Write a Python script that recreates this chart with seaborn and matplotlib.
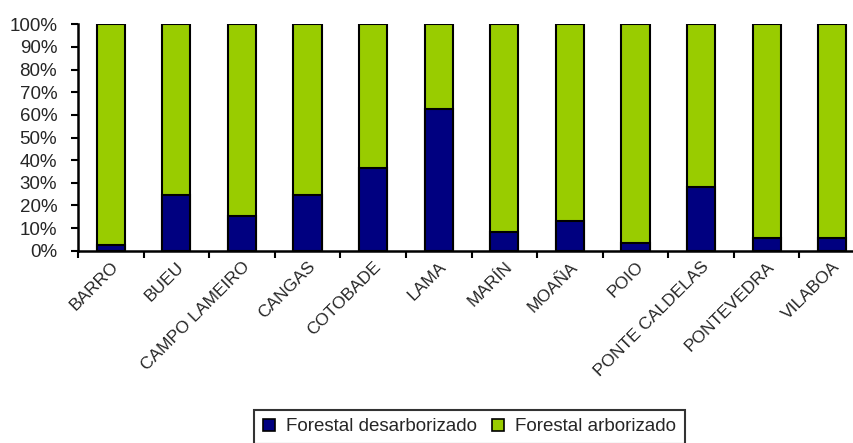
import numpy as np
import pandas as pd
import matplotlib
matplotlib.use("Agg")
import matplotlib.pyplot as plt
import matplotlib.transforms as mtransforms
import seaborn as sns
from matplotlib.patches import Patch
from matplotlib.ticker import PercentFormatter

sns.set_theme(style="white")
plt.rcParams['font.family'] = ['Liberation Sans', 'DejaVu Sans']

municipios = ["BARRO", "BUEU", "CAMPO LAMEIRO", "CANGAS", "COTOBADE", "LAMA",
              "MARÍN", "MOAÑA", "POIO", "PONTE CALDELAS", "PONTEVEDRA", "VILABOA"]
desarborizado = [2.5, 24.6, 15.3, 24.6, 36.4, 62.4, 8.1, 13.0, 3.3, 28.3, 5.7, 5.7]
arborizado = [100 - v for v in desarborizado]
series_names = ["Forestal desarborizado", "Forestal arborizado"]
colors = ["#000080", "#99CC00"]

df = pd.DataFrame({"municipio": municipios,
                   "desarb": desarborizado,
                   "arb": arborizado})
df["total"] = df["desarb"] + df["arb"]

fig = plt.figure(figsize=(8.54, 4.43), dpi=100)
ax = fig.add_axes([78/854, 1-250.7/443, 787/854, (250.7-24.3)/443])

sns.barplot(data=df, x="municipio", y="total", color=colors[1], ax=ax,
            width=0.43, edgecolor="black", linewidth=1.5, saturation=1)
sns.barplot(data=df, x="municipio", y="desarb", color=colors[0], ax=ax,
            width=0.43, edgecolor="black", linewidth=1.5, saturation=1)

n = len(municipios)
ax.set_xlim(-0.5, n - 0.5)
ax.set_ylim(0, 100)
ax.set_yticks(np.arange(0, 101, 10))
ax.yaxis.set_major_formatter(PercentFormatter(decimals=0))
ax.set_xlabel("")
ax.set_ylabel("")

ax.set_xticks(np.arange(-0.5, n, 1))
ax.set_xticklabels([])
ax.set_xticks(np.arange(n), minor=True)
ax.set_xticklabels(municipios, minor=True, rotation=45, ha="right",
                   rotation_mode="anchor", fontsize=12.5)
offset = mtransforms.ScaledTranslation(-5/100, -3/100, fig.dpi_scale_trans)
for lbl in ax.get_xticklabels(minor=True):
    lbl.set_transform(lbl.get_transform() + offset)
ax.tick_params(axis="x", which="minor", length=0, pad=6)
ax.tick_params(axis="x", which="major", length=5, width=1.5, color="black", direction="out", bottom=True)
ax.tick_params(axis="y", length=5, width=1.5, color="black", direction="out", left=True,
               labelsize=13.5, pad=10)

for s in ["top", "right"]:
    ax.spines[s].set_visible(False)
for s in ["left", "bottom"]:
    ax.spines[s].set_color("black")
    ax.spines[s].set_linewidth(1.8)
ax.grid(False)

handles = [Patch(facecolor=c, edgecolor="black", linewidth=1.2) for c in colors]
leg = fig.legend(handles, series_names, loc="upper center",
                 bbox_to_anchor=(469.5/854, 1 - 410/443), ncol=2,
                 frameon=True, fancybox=False, edgecolor="black",
                 fontsize=13.5, handlelength=0.65, handleheight=0.65,
                 handletextpad=0.6, columnspacing=0.8, borderpad=0.45,
                 borderaxespad=0)
leg.get_frame().set_linewidth(1.5)

fig.savefig("out.png", dpi=100)
